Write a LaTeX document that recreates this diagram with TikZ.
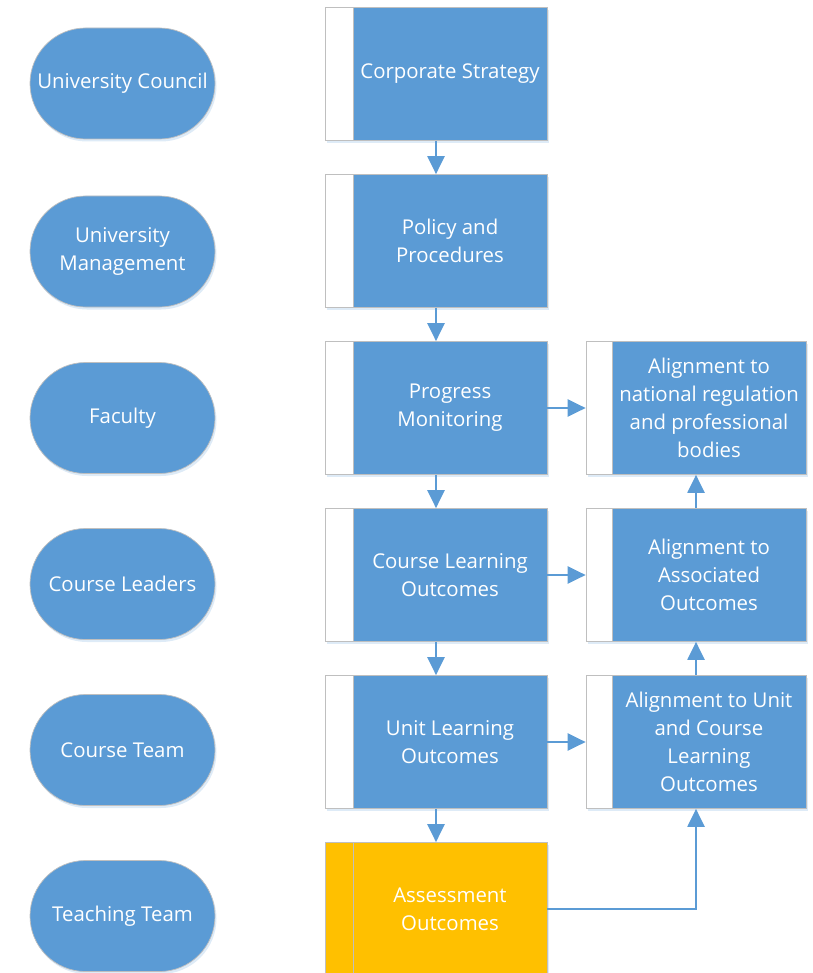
\documentclass[tikz,border=0pt]{standalone}
\usepackage{fontspec}
\setmainfont{Open Sans}
\usetikzlibrary{arrows.meta, positioning, shadows}
\definecolor{boxblue}{HTML}{5B9BD5}
\definecolor{boxgold}{HTML}{FFC000}
\definecolor{edgegray}{HTML}{BFBFBF}

\begin{document}
\begin{tikzpicture}[>={Triangle[length=0.36cm,width=0.34cm]}, font=\fontsize{11.6}{16}\selectfont,
	role/.style={draw=edgegray, fill=boxblue, text=white, rounded corners=1.11cm,
		minimum width=3.7cm, minimum height=2.22cm, align=center, inner sep=2pt,
		drop shadow={shadow xshift=0.03cm, shadow yshift=-0.05cm, opacity=0.2, fill=boxblue}},
	outer/.style={draw=edgegray, fill=white, minimum width=4.44cm, minimum height=2.66cm, inner sep=0pt,
		drop shadow={shadow xshift=0.03cm, shadow yshift=-0.05cm, opacity=0.2, fill=boxblue}},
	face/.style={draw=edgegray, fill=boxblue, text=white, minimum width=3.88cm,
		minimum height=2.66cm, align=center, inner sep=0pt, anchor=east},
	flow/.style={->, draw=boxblue, line width=0.045cm}]
\useasboundingbox (0,0) rectangle (16.26,-19.46);
%========================
% Left: roles
%========================
\node[role] (uc) at (2.45,-1.67) {University Council};
\node[role] (um) at (2.45,-5.03) {University\\Management};
\node[role] (fa) at (2.45,-8.36) {Faculty};
\node[role] (cl) at (2.45,-11.68) {Course Leaders};
\node[role] (ct) at (2.45,-15.0) {Course Team};
\node[role] (tt) at (2.45,-18.32) {Teaching Team};

%========================
% Middle: process column
%========================
\node[outer] (cs) at (8.72,-1.48) {};
\node[face] (cs-f) at (cs.east) {Corporate Strategy};
\node[outer] (pp) at (8.72,-4.82) {};
\node[face] (pp-f) at (pp.east) {Policy and\\Procedures};
\node[outer] (pm) at (8.72,-8.16) {};
\node[face] (pm-f) at (pm.east) {Progress\\Monitoring};
\node[outer] (clo) at (8.72,-11.50) {};
\node[face] (clo-f) at (clo.east) {Course Learning\\Outcomes};
\node[outer] (ulo) at (8.72,-14.84) {};
\node[face] (ulo-f) at (ulo.east) {Unit Learning\\Outcomes};
\node[outer, fill=boxgold] (ao) at (8.72,-18.18) {};
\node[face, fill=boxgold] (ao-f) at (ao.east) {Assessment\\Outcomes};

%========================
% Right: alignment column
%========================
\node[outer, minimum width=4.4cm] (an) at (13.92,-8.16) {};
\node[face] (an-f) at (an.east) {Alignment to\\national regulation\\and professional\\bodies};
\node[outer, minimum width=4.4cm] (aa) at (13.92,-11.50) {};
\node[face] (aa-f) at (aa.east) {Alignment to\\Associated\\Outcomes};
\node[outer, minimum width=4.4cm] (au) at (13.92,-14.84) {};
\node[face] (au-f) at (au.east) {Alignment to Unit\\and Course\\Learning\\Outcomes};

% connectors
\draw[flow] (cs) -- (pp);
\draw[flow] (pp) -- (pm);
\draw[flow] (pm) -- (clo);
\draw[flow] (clo) -- (ulo);
\draw[flow] (ulo) -- (ao);
\draw[flow] (pm) -- (an);
\draw[flow] (clo) -- (aa);
\draw[flow] (ulo) -- (au);
\draw[flow] (aa) -- (an);
\draw[flow] (au) -- (aa);
\draw[flow] (ao.east) -| (au.south);
\end{tikzpicture}
\end{document}
